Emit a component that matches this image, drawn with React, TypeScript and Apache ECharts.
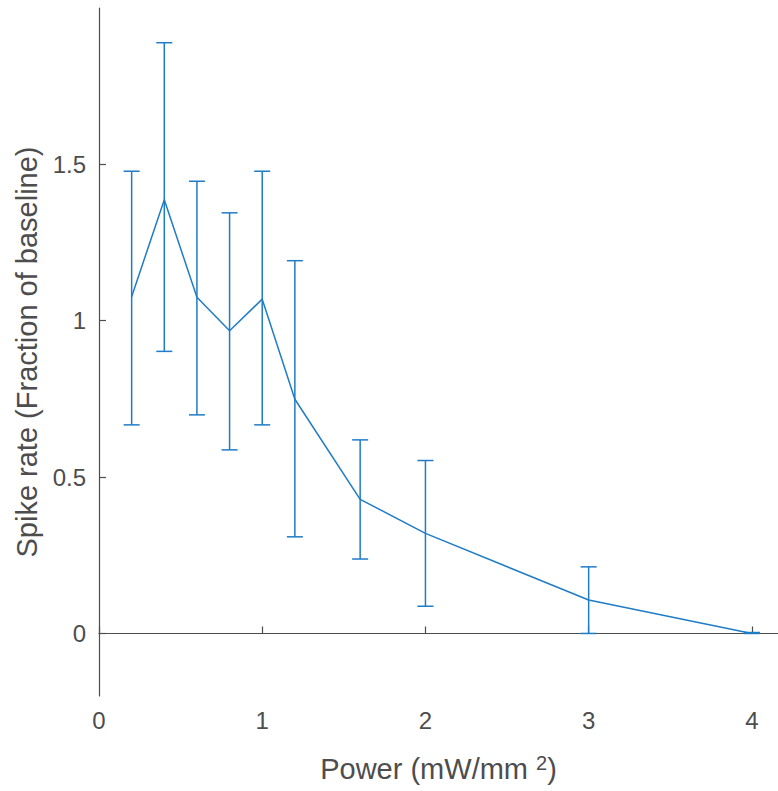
import React, { useEffect, useRef } from "react";
import * as echarts from "echarts";

const powers = [0.2, 0.4, 0.6, 0.8, 1.0, 1.2, 1.6, 2, 3, 4];
const means = [1.077, 1.387, 1.075, 0.968, 1.069, 0.749, 0.429, 0.32, 0.107, 0.0];
const lows = [0.667, 0.902, 0.699, 0.587, 0.667, 0.309, 0.238, 0.087, 0.0, 0.0];
const highs = [1.478, 1.889, 1.446, 1.345, 1.478, 1.192, 0.619, 0.553, 0.213, 0.003];
const xTicks = [0, 1, 2, 3, 4];
const yTicks = [0, 0.5, 1, 1.5];

const COLOR = "#1f7cc6";
const AXIS = "#4d4d4d";
const FONT = "Liberation Sans";

export default function App() {
  const ref = useRef<HTMLDivElement>(null);
  useEffect(() => {
    if (!ref.current) return;
    const chart = echarts.init(ref.current, null, { renderer: "svg" });
    const lineData = powers.map((p, i) => [p, means[i]]);
    const errData = powers.map((p, i) => [p, lows[i], highs[i]]);
    chart.setOption({
      animation: false,
      backgroundColor: "#ffffff",
      grid: { left: 99, right: 0, top: 8, bottom: 95, containLabel: false, outerBoundsMode: "none" },
      xAxis: {
        type: "value",
        min: 0,
        max: 4.16,
        name: "{a|Power (mW/mm }{b|2}{a|)}",
        nameLocation: "middle",
        nameGap: 57,
        nameTextStyle: {
          rich: {
            a: { fontFamily: FONT, fontSize: 29, color: AXIS, lineHeight: 32 },
            b: { fontFamily: FONT, fontSize: 20, color: AXIS, lineHeight: 20, verticalAlign: "top" },
          },
        },
        axisLine: { show: true, lineStyle: { color: AXIS, width: 1.2 } },
        axisTick: { show: true, inside: true, length: 7, customValues: xTicks, lineStyle: { color: AXIS, width: 1.2 } },
        axisLabel: {
          customValues: xTicks,
          margin: 12,
          fontFamily: FONT,
          fontSize: 24,
          color: AXIS,
        },
        splitLine: { show: false },
      },
      yAxis: {
        type: "value",
        min: -0.2,
        max: 2,
        name: "Spike rate (Fraction of baseline)",
        nameLocation: "middle",
        nameRotate: 90,
        nameGap: 58,
        nameTextStyle: { fontFamily: FONT, fontSize: 29, color: AXIS },
        axisLine: { show: true, lineStyle: { color: AXIS, width: 1.2 } },
        axisTick: { show: true, inside: true, length: 7, customValues: yTicks, lineStyle: { color: AXIS, width: 1.2 } },
        axisLabel: {
          customValues: yTicks,
          margin: 13,
          fontFamily: FONT,
          fontSize: 24,
          color: AXIS,
          formatter: (v: number) => String(v),
        },
        splitLine: { show: false },
      },
      series: [
        {
          type: "line",
          data: lineData,
          symbol: "none",
          lineStyle: { color: COLOR, width: 1.5 },
          z: 3,
        },
        {
          type: "custom",
          data: errData,
          z: 2,
          renderItem: (params: any, api: any) => {
            const x = api.value(0);
            const lo = api.coord([x, api.value(1)]);
            const hi = api.coord([x, api.value(2)]);
            const w = 8;
            const style = { stroke: COLOR, lineWidth: 1.5 };
            return {
              type: "group",
              children: [
                { type: "line", shape: { x1: lo[0], y1: lo[1], x2: hi[0], y2: hi[1] }, style },
                { type: "line", shape: { x1: lo[0] - w, y1: lo[1], x2: lo[0] + w, y2: lo[1] }, style },
                { type: "line", shape: { x1: hi[0] - w, y1: hi[1], x2: hi[0] + w, y2: hi[1] }, style },
              ],
            };
          },
        },
      ],
    });
    return () => chart.dispose();
  }, []);
  return (
    <div
      ref={ref}
      style={{ position: "fixed", left: 0, top: 0, width: 778, height: 791, background: "#fff" }}
    />
  );
}
